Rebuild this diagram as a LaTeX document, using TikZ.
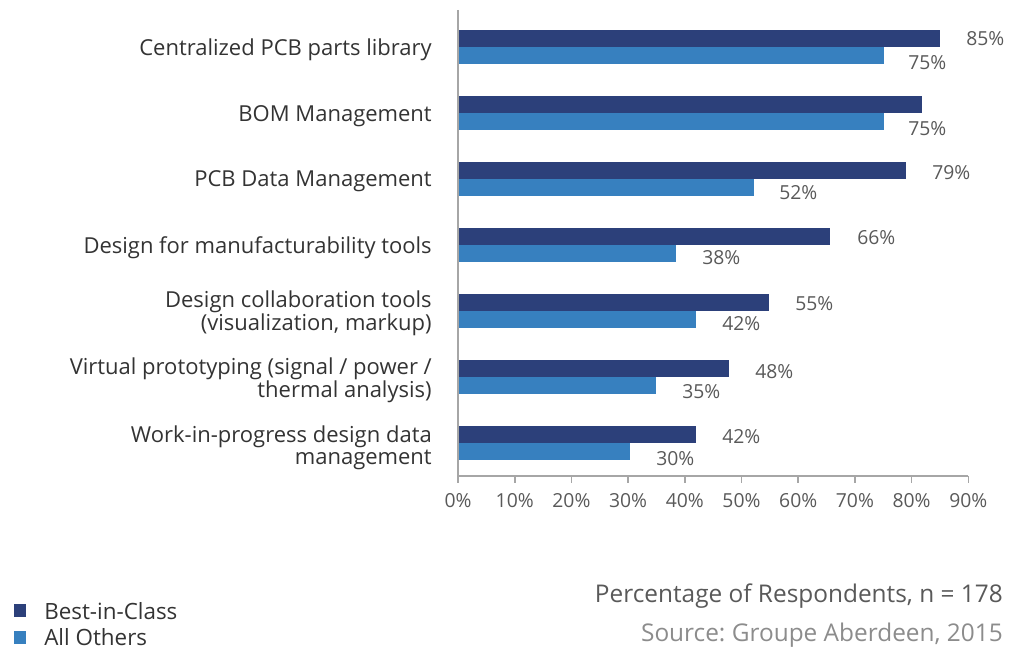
\documentclass[tikz,border=0pt]{standalone}
\usepackage{fontspec}
\setmainfont{Open Sans}
\frenchspacing
\usetikzlibrary{positioning}
\definecolor{bestblue}{HTML}{2C407A}
\definecolor{otherblue}{HTML}{3780BF}
\definecolor{axisgray}{HTML}{A6A6A6}
\definecolor{labelgray}{HTML}{595959}
\tikzstyle{best} = [fill=bestblue]
\tikzstyle{others} = [fill=otherblue]
\tikzstyle{category} = [anchor=east, align=right, text=black!80, inner sep=0pt, font=\fontsize{16.5}{16.2}\selectfont]
\tikzstyle{value} = [anchor=west, text=labelgray, inner sep=0pt, font=\fontsize{14.5}{16}\selectfont]
\tikzstyle{ticklabel} = [anchor=north, text=labelgray, inner sep=0pt, font=\fontsize{14.5}{16}\selectfont]
\tikzstyle{axis} = [axisgray, line width=1.2pt]
\tikzstyle{legend} = [anchor=west, inner sep=0pt, text=black!80, font=\fontsize{16.8}{18}\selectfont]
\tikzstyle{footer} = [anchor=east, inner sep=0pt, font=\fontsize{18.3}{20}\selectfont]

\begin{document}
\begin{tikzpicture}[x=0.75pt, y=-0.75pt]
    \useasboundingbox (0,0) rectangle (1021,649);

    % bars
    \fill [best] (458,30) rectangle (940,47);
    \fill [others] (458,47) rectangle (884,64);
    \fill [best] (458,96) rectangle (922,113);
    \fill [others] (458,113) rectangle (884,130);
    \fill [best] (458,162) rectangle (906,179);
    \fill [others] (458,179) rectangle (754,196);
    \fill [best] (458,228) rectangle (830,245);
    \fill [others] (458,245) rectangle (676,262);
    \fill [best] (458,294) rectangle (769,311);
    \fill [others] (458,311) rectangle (696,328);
    \fill [best] (458,360) rectangle (729,377);
    \fill [others] (458,377) rectangle (656,394);
    \fill [best] (458,426) rectangle (696,443);
    \fill [others] (458,443) rectangle (630,460);

    % axes
    \draw [axis] (458,10) -- (458,476) -- (968,476);
    \foreach \v/\pct in {0/0,1/10,2/20,3/30,4/40,5/50,6/60,7/70,8/80,9/90}
        \draw [axis] (458+56.7*\v,476) -- (458+56.7*\v,483) node (tick\v) [ticklabel, below=7pt] {\pct\%};

    % categories
    \node (cat1) [category] at (432,50) {Centralized PCB parts library};
    \node (cat2) [category] at (432,116) {BOM Management};
    \node (cat3) [category] at (432,181) {PCB Data Management};
    \node (cat4) [category] at (432,248) {Design for manufacturability tools};
    \node (cat5) [category] at (432,313) {Design collaboration tools\\(visualization, markup)};
    \node (cat6) [category] at (432,380) {Virtual prototyping (signal / power /\\thermal analysis)};
    \node (cat7) [category] at (432,448) {Work-in-progress design data\\management};

    % values
    \node (val1b) [value] at (966,39) {85\%};
    \node (val1o) [value] at (908,63) {75\%};
    \node (val2o) [value] at (908,129) {75\%};
    \node (val3b) [value] at (932,173) {79\%};
    \node (val3o) [value] at (779,193) {52\%};
    \node (val4b) [value] at (857,238) {66\%};
    \node (val4o) [value] at (702,258) {38\%};
    \node (val5b) [value] at (795,304) {55\%};
    \node (val5o) [value] at (722,324) {42\%};
    \node (val6b) [value] at (755,372) {48\%};
    \node (val6o) [value] at (682,392) {35\%};
    \node (val7b) [value] at (722,437) {42\%};
    \node (val7o) [value] at (656,459) {30\%};

    % legend
    \fill [best] (14,604) rectangle (26,617);
    \node (legbest) [legend] at (44,611) {Best-in-Class};
    \fill [others] (14,631) rectangle (26,644);
    \node (legothers) [legend] at (44,637) {All Others};

    \node (respondents) [footer, text=labelgray] at (1003,596) {Percentage of Respondents, n = 178};
    \node (source) [footer, text=black!45] at (1003,635) {Source: Groupe Aberdeen, 2015};
\end{tikzpicture}
\end{document}
